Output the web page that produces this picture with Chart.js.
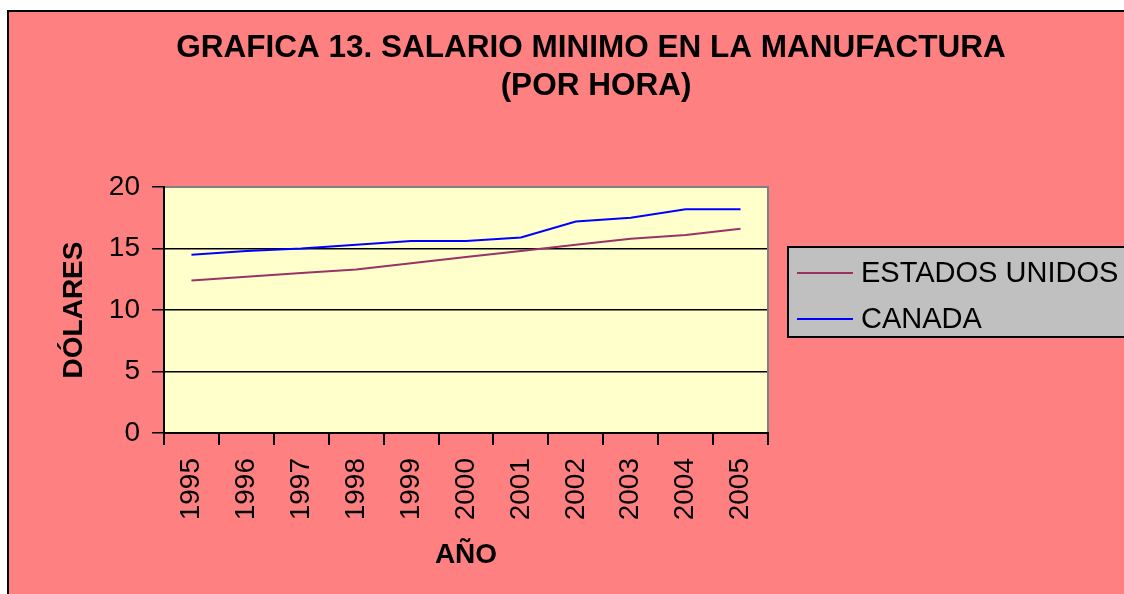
<!DOCTYPE html>
<html>
<head>
<meta charset="utf-8">
<script src="https://cdn.jsdelivr.net/npm/chart.js@4"></script>
<style>
    body { margin: 0; background: #ffffff; }
    canvas { display: block; }
</style>
</head>
<body>
<canvas id="chart" width="1124" height="594"></canvas>
<script>
const years = ['1995', '1996', '1997', '1998', '1999', '2000', '2001', '2002', '2003', '2004', '2005'];
const estadosUnidos = [12.4, 12.7, 13.0, 13.3, 13.8, 14.3, 14.8, 15.3, 15.8, 16.1, 16.6];
const canada = [14.5, 14.8, 15.0, 15.3, 15.6, 15.6, 15.9, 17.2, 17.5, 18.2, 18.2];
const yMin = 0;
const yMax = 20;
const yStep = 5;
const titleLines = ['GRAFICA 13. SALARIO MINIMO EN LA MANUFACTURA', '(POR HORA)'];
const yTitle = 'DÓLARES';
const xTitle = 'AÑO';

const fontFamily = '"Liberation Sans", Arial, sans-serif';

// background, plot area, titles and the legend box
const decorPlugin = {
    id: 'decor',
    beforeDraw(chart) {
        const ctx = chart.ctx;
        const area = chart.chartArea;
        ctx.save();
        ctx.fillStyle = '#ffffff';
        ctx.fillRect(0, 0, chart.width, chart.height);
        ctx.fillStyle = '#ff8080';
        ctx.fillRect(8, 11, chart.width, chart.height);
        ctx.strokeStyle = '#000000';
        ctx.lineWidth = 2;
        ctx.beginPath();
        ctx.moveTo(8, chart.height + 5);
        ctx.lineTo(8, 11);
        ctx.lineTo(chart.width + 5, 11);
        ctx.stroke();
        ctx.fillStyle = '#ffffcc';
        ctx.fillRect(area.left, area.top, area.right - area.left, area.bottom - area.top);
        ctx.restore();
    },
    afterDraw(chart) {
        const ctx = chart.ctx;
        const area = chart.chartArea;
        ctx.save();

        // grey top/right frame of the plot
        ctx.strokeStyle = '#808080';
        ctx.lineWidth = 2;
        ctx.beginPath();
        ctx.moveTo(area.left + 1, area.top);
        ctx.lineTo(area.right, area.top);
        ctx.lineTo(area.right, area.bottom - 1);
        ctx.stroke();

        ctx.fillStyle = '#000000';
        ctx.textAlign = 'center';
        ctx.textBaseline = 'middle';
        ctx.font = `bold 31.5px ${fontFamily}`;
        ctx.fillText(titleLines[0], 591, 48);
        ctx.fillText(titleLines[1], 596, 86);

        ctx.font = `bold 28px ${fontFamily}`;
        ctx.fillText(xTitle, 466, 555);
        ctx.save();
        ctx.translate(74, 310);
        ctx.rotate(-Math.PI / 2);
        ctx.fillText(yTitle, 0, 0);
        ctx.restore();

        // legend
        ctx.fillStyle = '#c0c0c0';
        ctx.fillRect(788, 247, 400, 90);
        ctx.strokeStyle = '#000000';
        ctx.lineWidth = 2;
        ctx.strokeRect(788, 247, 400, 90);
        ctx.font = `29px ${fontFamily}`;
        ctx.textAlign = 'left';
        chart.data.datasets.forEach((ds, i) => {
            const y = 273 + i * 46;
            ctx.strokeStyle = ds.borderColor;
            ctx.lineWidth = 2;
            ctx.beginPath();
            ctx.moveTo(797, y);
            ctx.lineTo(853, y);
            ctx.stroke();
            ctx.fillStyle = '#000000';
            ctx.fillText(ds.label, 861, y + 1);
        });
        ctx.restore();
    }
};

new Chart(document.getElementById('chart'), {
    type: 'line',
    data: {
        labels: years,
        datasets: [{
            label: 'ESTADOS UNIDOS',
            data: estadosUnidos,
            borderColor: '#993366',
            borderWidth: 2,
            pointRadius: 0,
            tension: 0
        }, {
            label: 'CANADA',
            data: canada,
            borderColor: '#0000ff',
            borderWidth: 2,
            pointRadius: 0,
            tension: 0
        }]
    },
    options: {
        responsive: false,
        animation: false,
        devicePixelRatio: 1,
        layout: {padding: {left: 0, top: 187, right: 356, bottom: 0}},
        plugins: {
            legend: {display: false},
            title: {display: false},
            tooltip: {enabled: false}
        },
        scales: {
            x: {
                offset: true,
                afterFit: (scale) => { scale.height = 161; },
                grid: {offset: true, drawOnChartArea: false, color: '#000000', lineWidth: 2, tickLength: 12},
                border: {color: '#000000', width: 2},
                ticks: {
                    color: '#000000',
                    minRotation: 90,
                    maxRotation: 90,
                    padding: 13,
                    font: {family: fontFamily, size: 28}
                }
            },
            y: {
                min: yMin,
                max: yMax,
                afterFit: (scale) => { scale.width = 164; },
                grid: {color: '#000000', lineWidth: 1.5, tickLength: 12},
                border: {color: '#000000', width: 2},
                ticks: {
                    stepSize: yStep,
                    color: '#000000',
                    padding: 12,
                    font: {family: fontFamily, size: 28}
                }
            }
        }
    },
    plugins: [decorPlugin]
});
</script>
</body>
</html>
